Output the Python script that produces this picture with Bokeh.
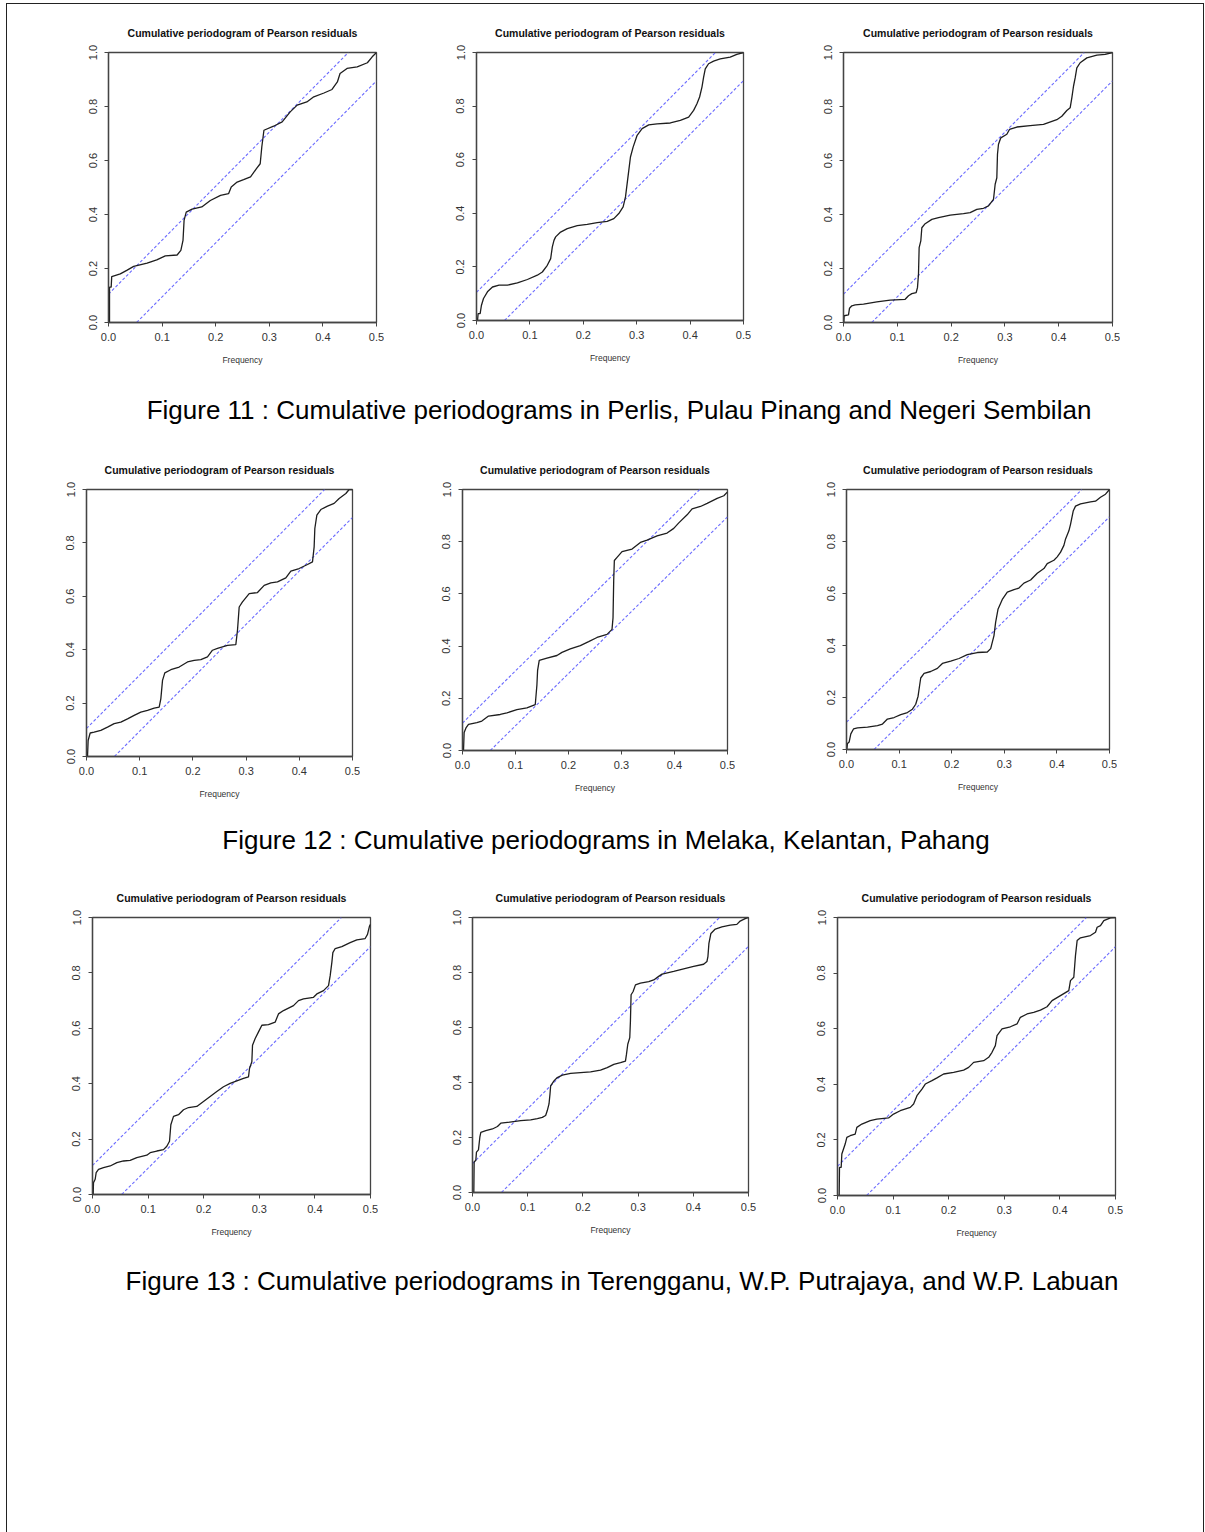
from bokeh.plotting import figure
from bokeh.layouts import column, row
from bokeh.models import Spacer, Div, FixedTicker, ColumnDataSource
from bokeh.embed import file_html
from bokeh.resources import INLINE

TITLE = "Cumulative periodogram of Pearson residuals"
X_LABEL = "Frequency"
FREQ_TICKS = [0.0, 0.1, 0.2, 0.3, 0.4, 0.5]
FREQ_TICK_LABELS = ["0.0", "0.1", "0.2", "0.3", "0.4", "0.5"]
CP_TICKS = [0.0, 0.2, 0.4, 0.6, 0.8, 1.0]
CP_TICK_LABELS = ["0.0", "0.2", "0.4", "0.6", "0.8", "1.0"]
BAND_CRIT = 0.105  # half-width of the Kolmogorov-Smirnov band

CAPTIONS = [
    "Figure 11 : Cumulative periodograms in Perlis, Pulau Pinang and Negeri Sembilan",
    "Figure 12 : Cumulative periodograms in Melaka, Kelantan, Pahang",
    "Figure 13 : Cumulative periodograms in Terengganu, W.P. Putrajaya, and W.P. Labuan",
]

# cumulative periodograms (frequency, cumulative share)
perlis_freq = [0.0019, 0.0019, 0.005, 0.006, 0.022, 0.034, 0.047, 0.072, 0.090, 0.106, 0.128, 0.135,
               0.139, 0.141, 0.145, 0.156, 0.174, 0.190, 0.209, 0.224, 0.229, 0.240, 0.252, 0.265,
               0.276, 0.283, 0.286, 0.290, 0.308, 0.324, 0.339, 0.352, 0.370, 0.383, 0.402, 0.417,
               0.427, 0.432, 0.445, 0.464, 0.483, 0.492, 0.5]
perlis_cp = [0.0, 0.131, 0.131, 0.170, 0.180, 0.193, 0.208, 0.220, 0.232, 0.247, 0.250, 0.267,
             0.304, 0.378, 0.409, 0.420, 0.428, 0.452, 0.471, 0.477, 0.502, 0.520, 0.529, 0.539,
             0.570, 0.588, 0.650, 0.712, 0.727, 0.743, 0.780, 0.805, 0.817, 0.836, 0.850, 0.863,
             0.891, 0.922, 0.941, 0.947, 0.962, 0.984, 1.0]

pinang_freq = [0.0019, 0.0031, 0.0068, 0.0093, 0.0131, 0.0205, 0.0299, 0.0423, 0.0579, 0.0766, 0.0953,
               0.1139, 0.1233, 0.1326, 0.1389, 0.1420, 0.1451, 0.1482, 0.1575, 0.1700, 0.1887, 0.2073,
               0.2260, 0.2447, 0.2572, 0.2665, 0.2746, 0.2790, 0.2821, 0.2852, 0.2883, 0.2933, 0.3008,
               0.3101, 0.3225, 0.3381, 0.3630, 0.3817, 0.3973, 0.4066, 0.4128, 0.4178, 0.4222, 0.4253,
               0.4284, 0.4346, 0.4440, 0.4564, 0.4751, 0.4875, 0.5]
pinang_cp = [0.0, 0.026, 0.026, 0.057, 0.082, 0.107, 0.125, 0.132, 0.132, 0.140, 0.153,
             0.169, 0.181, 0.206, 0.231, 0.275, 0.299, 0.312, 0.330, 0.343, 0.354, 0.359,
             0.365, 0.370, 0.380, 0.399, 0.424, 0.461, 0.511, 0.560, 0.610, 0.647, 0.691,
             0.716, 0.730, 0.734, 0.737, 0.747, 0.759, 0.784, 0.809, 0.834, 0.871, 0.908,
             0.939, 0.958, 0.968, 0.976, 0.983, 0.993, 1.0]

sembilan_freq = [0.0006, 0.0012, 0.0093, 0.0112, 0.0155, 0.0217, 0.0372, 0.0620, 0.0867, 0.1146, 0.1208,
                 0.1270, 0.1351, 0.1375, 0.1394, 0.1406, 0.1437, 0.1456, 0.1518, 0.1642, 0.1766, 0.1983,
                 0.2230, 0.2354, 0.2478, 0.2602, 0.2695, 0.2788, 0.2819, 0.2850, 0.2862, 0.2881, 0.2924,
                 0.3036, 0.3085, 0.3222, 0.3469, 0.3717, 0.3965, 0.4058, 0.4151, 0.4213, 0.4244, 0.4275,
                 0.4306, 0.4337, 0.4399, 0.4523, 0.4709, 0.4864, 0.5]
sembilan_cp = [0.0, 0.025, 0.028, 0.053, 0.062, 0.065, 0.068, 0.076, 0.083, 0.086, 0.099,
               0.107, 0.111, 0.129, 0.179, 0.277, 0.302, 0.351, 0.366, 0.382, 0.388, 0.398,
               0.403, 0.407, 0.419, 0.423, 0.432, 0.456, 0.512, 0.536, 0.623, 0.660, 0.684,
               0.697, 0.715, 0.724, 0.729, 0.734, 0.751, 0.764, 0.785, 0.795, 0.832, 0.875,
               0.906, 0.943, 0.962, 0.980, 0.990, 0.993, 1.0]

melaka_freq = [0.0019, 0.0031, 0.0069, 0.0144, 0.0269, 0.0395, 0.0520, 0.0645, 0.0771, 0.0896, 0.1021,
               0.1147, 0.1272, 0.1366, 0.1397, 0.1429, 0.1472, 0.1585, 0.1742, 0.1898, 0.2024, 0.2149,
               0.2274, 0.2368, 0.2462, 0.2650, 0.2807, 0.2838, 0.2870, 0.2932, 0.3058, 0.3214, 0.3340,
               0.3465, 0.3590, 0.3747, 0.3841, 0.3997, 0.4154, 0.4248, 0.4279, 0.4292, 0.4330, 0.4405,
               0.4530, 0.4655, 0.4749, 0.4875, 0.4937, 0.5]
melaka_cp = [0.0, 0.060, 0.088, 0.091, 0.098, 0.110, 0.123, 0.129, 0.141, 0.154, 0.166,
             0.173, 0.181, 0.185, 0.216, 0.285, 0.313, 0.325, 0.335, 0.354, 0.360, 0.363,
             0.373, 0.398, 0.405, 0.416, 0.419, 0.473, 0.560, 0.579, 0.610, 0.614, 0.641,
             0.650, 0.654, 0.669, 0.694, 0.704, 0.719, 0.729, 0.785, 0.854, 0.904, 0.925,
             0.938, 0.948, 0.966, 0.985, 1.0, 1.0]

kelantan_freq = [0.0019, 0.0031, 0.0069, 0.0113, 0.0271, 0.0365, 0.0491, 0.0712, 0.0838, 0.1026, 0.1215,
                 0.1373, 0.1404, 0.1417, 0.1448, 0.1593, 0.1782, 0.1877, 0.2034, 0.2223, 0.2380, 0.2538,
                 0.2727, 0.2821, 0.2840, 0.2853, 0.2865, 0.2916, 0.3010, 0.3199, 0.3356, 0.3482, 0.3671,
                 0.3860, 0.3986, 0.4081, 0.4238, 0.4332, 0.4490, 0.4616, 0.4805, 0.4931, 0.5]
kelantan_cp = [0.0, 0.069, 0.088, 0.100, 0.107, 0.113, 0.132, 0.138, 0.144, 0.157, 0.163,
               0.176, 0.251, 0.307, 0.345, 0.354, 0.364, 0.376, 0.389, 0.402, 0.417, 0.433,
               0.445, 0.464, 0.508, 0.652, 0.728, 0.740, 0.762, 0.772, 0.797, 0.806, 0.822,
               0.833, 0.851, 0.872, 0.903, 0.926, 0.935, 0.947, 0.966, 0.976, 0.991]

pahang_freq = [0.0006, 0.0019, 0.0051, 0.0082, 0.0133, 0.0209, 0.0399, 0.0589, 0.0684, 0.0778, 0.0905,
               0.1032, 0.1158, 0.1253, 0.1316, 0.1361, 0.1392, 0.1411, 0.1475, 0.1601, 0.1728, 0.1823,
               0.1981, 0.2139, 0.2297, 0.2487, 0.2677, 0.2741, 0.2804, 0.2835, 0.2880, 0.2962, 0.3057,
               0.3184, 0.3278, 0.3373, 0.3500, 0.3627, 0.3753, 0.3816, 0.3943, 0.4006, 0.4070, 0.4133,
               0.4165, 0.4228, 0.4259, 0.4310, 0.4354, 0.4449, 0.4639, 0.4734, 0.4829, 0.4924, 0.5]
pahang_cp = [0.0, 0.023, 0.029, 0.060, 0.079, 0.083, 0.086, 0.092, 0.098, 0.117, 0.123,
             0.134, 0.142, 0.155, 0.174, 0.205, 0.249, 0.275, 0.293, 0.300, 0.312, 0.331,
             0.340, 0.350, 0.365, 0.373, 0.375, 0.388, 0.438, 0.489, 0.539, 0.577, 0.605,
             0.615, 0.621, 0.640, 0.652, 0.678, 0.696, 0.715, 0.728, 0.741, 0.759, 0.785,
             0.810, 0.841, 0.866, 0.917, 0.936, 0.945, 0.952, 0.955, 0.970, 0.982, 1.0]

terengganu_freq = [0.0012, 0.0018, 0.0048, 0.0066, 0.0108, 0.0198, 0.0318, 0.0438, 0.0558, 0.0677, 0.0797,
                   0.0977, 0.1037, 0.1157, 0.1277, 0.1337, 0.1385, 0.1409, 0.1457, 0.1547, 0.1637, 0.1727,
                   0.1876, 0.1996, 0.2116, 0.2236, 0.2356, 0.2476, 0.2596, 0.2716, 0.2806, 0.2824, 0.2866,
                   0.2878, 0.2926, 0.2986, 0.3046, 0.3165, 0.3285, 0.3345, 0.3435, 0.3615, 0.3705, 0.3795,
                   0.3975, 0.4035, 0.4155, 0.4245, 0.4275, 0.4305, 0.4323, 0.4365, 0.4484, 0.4634, 0.4754,
                   0.4904, 0.4946, 0.4982, 0.5]
terengganu_cp = [0.0, 0.043, 0.055, 0.079, 0.091, 0.097, 0.103, 0.115, 0.121, 0.123, 0.133,
                 0.142, 0.151, 0.157, 0.162, 0.174, 0.192, 0.252, 0.282, 0.288, 0.306, 0.314,
                 0.318, 0.336, 0.354, 0.372, 0.389, 0.401, 0.410, 0.419, 0.425, 0.455, 0.479,
                 0.539, 0.563, 0.587, 0.611, 0.613, 0.622, 0.652, 0.664, 0.682, 0.700, 0.706,
                 0.712, 0.724, 0.736, 0.754, 0.790, 0.838, 0.873, 0.888, 0.895, 0.909, 0.919,
                 0.924, 0.939, 0.969, 0.975]

putrajaya_freq = [0.0024, 0.0030, 0.0060, 0.0072, 0.0108, 0.0133, 0.0151, 0.0241, 0.0361, 0.0452, 0.0512,
                  0.0633, 0.0873, 0.1054, 0.1175, 0.1265, 0.1325, 0.1355, 0.1386, 0.1404, 0.1416, 0.1476,
                  0.1536, 0.1627, 0.1777, 0.1958, 0.2139, 0.2319, 0.2440, 0.2560, 0.2681, 0.2771, 0.2789,
                  0.2813, 0.2849, 0.2861, 0.2873, 0.2910, 0.2952, 0.3042, 0.3193, 0.3283, 0.3373, 0.3434,
                  0.3645, 0.3825, 0.4006, 0.4187, 0.4247, 0.4265, 0.4283, 0.4319, 0.4398, 0.4518, 0.4669,
                  0.4789, 0.4849, 0.4940, 0.5]
putrajaya_cp = [0.0, 0.111, 0.117, 0.147, 0.155, 0.201, 0.219, 0.225, 0.231, 0.240, 0.252,
                0.255, 0.261, 0.264, 0.269, 0.273, 0.280, 0.298, 0.322, 0.358, 0.388, 0.406,
                0.418, 0.427, 0.433, 0.436, 0.439, 0.445, 0.454, 0.466, 0.472, 0.478, 0.502,
                0.539, 0.563, 0.623, 0.719, 0.731, 0.755, 0.761, 0.767, 0.773, 0.786, 0.794,
                0.804, 0.813, 0.822, 0.830, 0.840, 0.858, 0.906, 0.942, 0.958, 0.966, 0.972,
                0.975, 0.987, 0.996, 1.0]

labuan_freq = [0.0030, 0.0036, 0.0066, 0.0078, 0.0108, 0.0138, 0.0168, 0.0228, 0.0318, 0.0348, 0.0438,
               0.0588, 0.0708, 0.0918, 0.1008, 0.1128, 0.1309, 0.1369, 0.1429, 0.1519, 0.1579, 0.1699,
               0.1789, 0.1909, 0.2089, 0.2269, 0.2359, 0.2449, 0.2629, 0.2719, 0.2779, 0.2839, 0.2869,
               0.2959, 0.3109, 0.3229, 0.3289, 0.3409, 0.3529, 0.3649, 0.3769, 0.3859, 0.4010, 0.4160,
               0.4190, 0.4250, 0.4280, 0.4310, 0.4370, 0.4550, 0.4640, 0.4670, 0.4730, 0.4790, 0.4910, 0.5]
labuan_cp = [0.0, 0.101, 0.101, 0.149, 0.167, 0.185, 0.209, 0.215, 0.221, 0.245, 0.257,
             0.269, 0.275, 0.279, 0.293, 0.305, 0.317, 0.329, 0.359, 0.383, 0.401, 0.413,
             0.423, 0.437, 0.443, 0.451, 0.461, 0.479, 0.485, 0.497, 0.515, 0.539, 0.575,
             0.599, 0.607, 0.617, 0.641, 0.653, 0.659, 0.667, 0.679, 0.701, 0.719, 0.737,
             0.773, 0.785, 0.863, 0.917, 0.927, 0.935, 0.947, 0.965, 0.971, 0.989, 0.999, 1.0]

# page geometry: plot frame boxes (left, top, width, height) in page pixels
FRAMES = [
    [(108, 52, 268, 270), (476, 52, 267, 268), (843, 51, 269, 271)],
    [(86, 489, 266, 267), (462, 484, 265, 266), (846, 485, 263, 264)],
    [(92, 915, 278, 279), (472, 916, 276, 276), (837, 917, 278, 278)],
]
ROW_TOPS = [8, 438, 868]
CAPTION_CENTERS = [(619, 410), (606, 840), (622, 1281)]
OX, OY = 7, 4          # content origin inside the page border
BL, BR, BB = 44, 8, 52
FONT = "Liberation Sans"

SERIES = [
    [(perlis_freq, perlis_cp), (pinang_freq, pinang_cp), (sembilan_freq, sembilan_cp)],
    [(melaka_freq, melaka_cp), (kelantan_freq, kelantan_cp), (pahang_freq, pahang_cp)],
    [(terengganu_freq, terengganu_cp), (putrajaya_freq, putrajaya_cp), (labuan_freq, labuan_cp)],
]


def cpgram_panel(freq, cp, frame, row_top):
    left, top, w, h = frame
    bt = top - row_top
    p = figure(width=BL + w + BR, height=bt + h + BB,
               x_range=(0, 0.5), y_range=(0, 1),
               min_border_left=BL, min_border_right=BR,
               min_border_top=bt, min_border_bottom=BB,
               output_backend="svg", toolbar_location=None,
               title=TITLE)
    p.title.align = "center"
    p.title.text_font = FONT
    p.title.text_font_size = "10.5px"
    p.title.text_font_style = "bold"
    p.title.text_color = "#111111"
    p.title.standoff = 28
    p.background_fill_color = "white"
    p.border_fill_color = None
    p.outline_line_color = "#444444"
    p.outline_line_width = 1.3
    p.xgrid.visible = False
    p.ygrid.visible = False

    for ax, ticks, labels in ((p.xaxis[0], FREQ_TICKS, FREQ_TICK_LABELS),
                              (p.yaxis[0], CP_TICKS, CP_TICK_LABELS)):
        ax.ticker = FixedTicker(ticks=ticks, minor_ticks=[])
        ax.major_label_overrides = {t: s for t, s in zip(ticks, labels)}
        ax.axis_line_color = "#444444"
        ax.axis_line_width = 1.3
        ax.major_tick_line_color = "#444444"
        ax.major_tick_in = 0
        ax.major_tick_out = 4
        ax.minor_tick_line_color = None
        ax.major_label_text_font = FONT
        ax.major_label_text_font_size = "11px"
        ax.major_label_text_color = "#333333"

    p.xaxis.major_label_standoff = 6
    p.xaxis.axis_label = X_LABEL
    p.xaxis.axis_label_text_font = FONT
    p.xaxis.axis_label_text_font_size = "8.5px"
    p.xaxis.axis_label_text_font_style = "normal"
    p.xaxis.axis_label_text_color = "#333333"
    p.xaxis.axis_label_standoff = 11
    p.yaxis.major_label_orientation = "vertical"
    p.yaxis.major_label_standoff = 8

    # confidence band around the white-noise diagonal
    band = ColumnDataSource(data=dict(
        x0=[0.0, BAND_CRIT / 2],
        y0=[BAND_CRIT, 0.0],
        x1=[(1.0 - BAND_CRIT) / 2, 0.5],
        y1=[1.0, 1.0 - BAND_CRIT],
    ))
    p.segment(x0="x0", y0="y0", x1="x1", y1="y1", source=band,
              line_color="#6b6bff", line_width=1.1, line_dash="3 2")

    p.line(freq, cp, line_color="#1e1e1e", line_width=1.3)
    return p


def caption(text, center, prev_bottom):
    cx, cy = center
    div_w, div_h = 1120, 40
    d = Div(text=text, width=div_w, height=div_h, margin=0,
            styles={"font-family": "'Liberation Sans', Arial, sans-serif",
                    "font-size": "26px", "line-height": f"{div_h}px",
                    "text-align": "center", "white-space": "nowrap", "color": "#000000"})
    top = cy - div_h // 2
    return [Spacer(height=top - prev_bottom),
            row(Spacer(width=cx - div_w // 2 - OX), d)], top + div_h


children = []
cursor_y = OY
for r in range(3):
    row_top = ROW_TOPS[r]
    children.append(Spacer(height=row_top - cursor_y))
    items = []
    cursor_x = OX
    row_h = 0
    for c in range(3):
        frame = FRAMES[r][c]
        freq, cp = SERIES[r][c]
        fig = cpgram_panel(freq, cp, frame, row_top)
        items.append(Spacer(width=frame[0] - BL - cursor_x))
        items.append(fig)
        cursor_x = frame[0] - BL + fig.width
        row_h = max(row_h, fig.height)
    children.append(row(*items))
    cursor_y = row_top + row_h
    parts, cursor_y = caption(CAPTIONS[r], CAPTION_CENTERS[r], cursor_y)
    children.extend(parts)

children.append(Spacer(height=1532 - cursor_y))

page = column(*children, width=1198,
              styles={"border-left": "1.5px solid #222", "border-top": "1.5px solid #222",
                      "border-right": "1.5px solid #222", "margin-left": "6px", "margin-top": "3px",
                      "background-color": "white"})

with open("out.html", "w") as fh:
    fh.write(file_html(page, INLINE, title="Cumulative periodograms"))
